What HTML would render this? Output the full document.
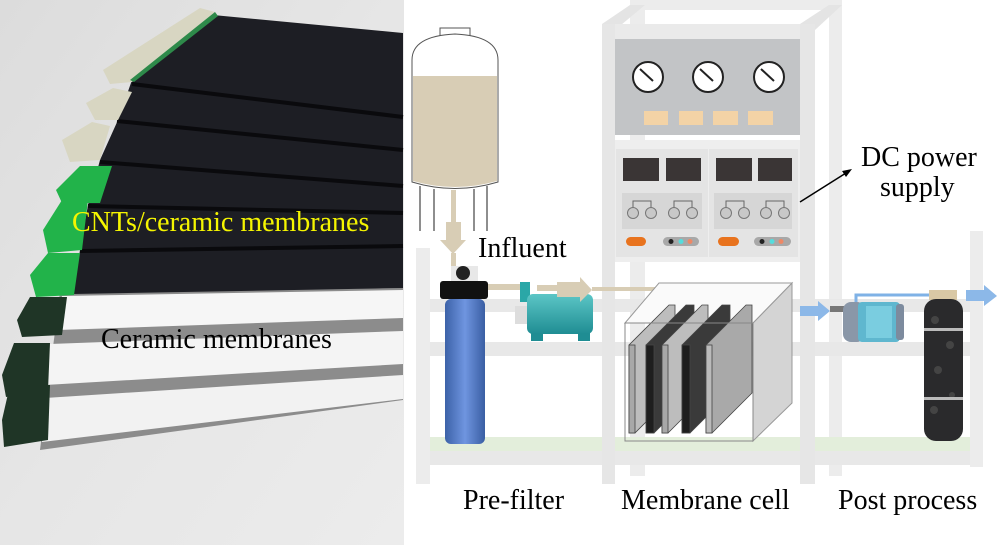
<!DOCTYPE html>
<html><head><meta charset="utf-8"><style>
html,body{margin:0;padding:0;background:#fff;}
svg{display:block;}
text{font-family:"Liberation Serif",serif;}
</style></head><body>
<svg width="1000" height="545" viewBox="0 0 1000 545" xmlns="http://www.w3.org/2000/svg">
<defs>
<linearGradient id="bg" x1="0" y1="0" x2="1" y2="1"><stop offset="0" stop-color="#dcdcdc"/><stop offset="0.5" stop-color="#e6e6e6"/><stop offset="1" stop-color="#ececec"/></linearGradient>
<linearGradient id="blue" x1="0" x2="1"><stop offset="0" stop-color="#3c62a8"/><stop offset="0.5" stop-color="#6f95e0"/><stop offset="1" stop-color="#3a5ea3"/></linearGradient>
<linearGradient id="teal" x1="0" y1="0" x2="0" y2="1"><stop offset="0" stop-color="#5cc6c6"/><stop offset="1" stop-color="#1f8d93"/></linearGradient>
</defs>
<!-- LEFT PHOTO -->
<rect x="0" y="0" width="404" height="545" fill="url(#bg)"/>
<!-- white plates -->
<polygon points="60,292 403,288 403,400 40,450" fill="#8c8c8c"/>
<polygon points="62,296 403,290 403,318 58,330" fill="#f6f6f6"/>
<polygon points="50,344 403,331 403,364 45,385" fill="#f4f4f4"/>
<polygon points="45,398 403,375 403,399 42,442" fill="#f2f2f2"/>
<!-- dark plates -->
<polygon points="213,15 403,33 403,288 73,294 80,250 88,205 100,160 118,120 132,80" fill="#1d1e24"/>
<g stroke="#0a0a0d" stroke-width="4" fill="none">
<line x1="132" y1="84" x2="403" y2="117"/>
<line x1="117" y1="121" x2="403" y2="150"/>
<line x1="100" y1="162" x2="403" y2="186"/>
<line x1="88" y1="206" x2="403" y2="213"/>
<line x1="80" y1="251" x2="403" y2="246"/>
</g>
<!-- tabs -->
<polygon points="103,70 200,8 215,12 132,82 110,84" fill="#d8d6c2"/>
<polygon points="130,80 215,12 218,16 134,82" fill="#2e8a4a"/>
<polygon points="86,103 113,88 132,92 118,120 95,120" fill="#d8d6c2"/>
<polygon points="62,140 92,122 110,126 100,160 70,162" fill="#d8d6c2"/>
<polygon points="56,190 80,166 112,166 100,203 62,203" fill="#22b34a"/>
<polygon points="43,230 62,200 88,200 82,250 48,253" fill="#22b34a"/>
<polygon points="30,275 48,253 80,253 74,295 36,297" fill="#22b34a"/>
<polygon points="17,320 30,297 67,297 62,335 22,337" fill="#1f3526"/>
<polygon points="2,375 14,343 50,343 48,390 6,397" fill="#1f3526"/>
<polygon points="2,420 10,385 50,385 48,440 4,447" fill="#1f3526"/>
<text x="72" y="231" font-size="28" fill="#f5f500">CNTs/ceramic membranes</text>
<text x="101" y="348" font-size="28" fill="#000">Ceramic membranes</text>

<!-- RIGHT DIAGRAM -->
<!-- back posts -->
<rect x="630" y="0" width="15" height="476" fill="#ececec"/>
<rect x="829" y="0" width="13" height="476" fill="#ececec"/>
<rect x="630" y="0" width="212" height="10" fill="#ececec"/>
<polygon points="602,24 630,5 645,5 615,30" fill="#e4e4e4"/>
<polygon points="800,24 829,5 842,5 815,30" fill="#e4e4e4"/>
<!-- rails -->
<rect x="416" y="299" width="554" height="13" fill="#e8e8e8"/>
<rect x="416" y="342" width="554" height="14" fill="#e8e8e8"/>
<rect x="416" y="437" width="554" height="14" fill="#e3eedb"/>
<rect x="416" y="451" width="554" height="14" fill="#e8e8e8"/>
<rect x="416" y="248" width="14" height="236" fill="#ececec"/>
<rect x="970" y="231" width="13" height="236" fill="#ececec"/>
<!-- front frame -->
<rect x="602" y="24" width="213" height="15" fill="#eaeaea"/>
<rect x="602" y="24" width="13" height="460" fill="#e6e6e6"/>
<rect x="800" y="24" width="15" height="460" fill="#e6e6e6"/>
<!-- gauge panel -->
<rect x="615" y="39" width="185" height="96" fill="#c2c4c6"/>
<g fill="#fff" stroke="#222" stroke-width="2">
<circle cx="648" cy="77" r="15"/><circle cx="708" cy="77" r="15"/><circle cx="769" cy="77" r="15"/>
</g>
<g stroke="#222" stroke-width="2">
<line x1="640" y1="69" x2="653" y2="81"/><line x1="700" y1="69" x2="713" y2="81"/><line x1="761" y1="69" x2="774" y2="81"/>
</g>
<g fill="#f3d3a6">
<rect x="644" y="111" width="24" height="14"/><rect x="679" y="111" width="24" height="14"/><rect x="713" y="111" width="25" height="14"/><rect x="748" y="111" width="25" height="14"/>
</g>
<!-- power supplies -->
<rect x="615" y="140" width="185" height="122" fill="#eeeeee"/>
<rect x="616" y="149" width="92" height="108" fill="#e4e4e4"/>
<rect x="709" y="149" width="89" height="108" fill="#e4e4e4"/>
<g fill="#3a3535">
<rect x="623" y="158" width="36" height="23"/><rect x="666" y="158" width="35" height="23"/><rect x="716" y="158" width="36" height="23"/><rect x="758" y="158" width="34" height="23"/>
</g>
<rect x="622" y="193" width="80" height="36" fill="#d6d6d6"/>
<rect x="714" y="193" width="78" height="36" fill="#d6d6d6"/>
<g fill="none" stroke="#666" stroke-width="1">
<polyline points="633,212 633,201 651,201 651,212"/><polyline points="674,212 674,201 692,201 692,212"/>
<polyline points="726,212 726,201 744,201 744,212"/><polyline points="766,212 766,201 784,201 784,212"/>
</g>
<g fill="#c8c8c8" stroke="#777" stroke-width="1">
<circle cx="633" cy="213" r="5.5"/><circle cx="651" cy="213" r="5.5"/><circle cx="674" cy="213" r="5.5"/><circle cx="692" cy="213" r="5.5"/>
<circle cx="726" cy="213" r="5.5"/><circle cx="744" cy="213" r="5.5"/><circle cx="766" cy="213" r="5.5"/><circle cx="784" cy="213" r="5.5"/>
</g>
<rect x="626" y="237" width="20" height="9" rx="4.5" fill="#e8731e"/>
<rect x="718" y="237" width="21" height="9" rx="4.5" fill="#e8731e"/>
<rect x="663" y="237" width="36" height="9" rx="4.5" fill="#a8a8a8"/>
<rect x="754" y="237" width="37" height="9" rx="4.5" fill="#a8a8a8"/>
<g><circle cx="671" cy="241.5" r="2.5" fill="#222"/><circle cx="681" cy="241.5" r="2.5" fill="#5dd"/><circle cx="690" cy="241.5" r="2.5" fill="#e86"/>
<circle cx="762" cy="241.5" r="2.5" fill="#222"/><circle cx="772" cy="241.5" r="2.5" fill="#5dd"/><circle cx="781" cy="241.5" r="2.5" fill="#e86"/></g>
<line x1="800" y1="202" x2="846" y2="173" stroke="#000" stroke-width="1.5"/>
<polygon points="852,169 842,171 846,177" fill="#000"/>
<text x="861" y="166" font-size="28">DC power</text>
<text x="880" y="196" font-size="28">supply</text>
<!-- tank -->
<rect x="440" y="28" width="30" height="8" fill="#fff" stroke="#555" stroke-width="1"/>
<path d="M412,60 Q412,36 455,34 Q498,36 498,60 L498,182 Q455,195 412,182 Z" fill="#fff" stroke="#555" stroke-width="1"/>
<path d="M413,76 L497,76 L497,181 Q455,193 413,181 Z" fill="#d8cdb5"/>
<g stroke="#444" stroke-width="1.2"><line x1="420" y1="186" x2="420" y2="231"/><line x1="434" y1="189" x2="434" y2="231"/><line x1="474" y1="189" x2="474" y2="231"/><line x1="487" y1="186" x2="487" y2="231"/></g>
<rect x="451" y="190" width="5" height="35" fill="#d8cdb5"/>
<polygon points="446,222 461,222 461,240 466,240 453,254 440,240 446,240" fill="#d8cdb5"/>
<rect x="451" y="253" width="5" height="14" fill="#d8cdb5"/>
<text x="478" y="257" font-size="28">Influent</text>
<!-- prefilter -->
<rect x="451" y="266" width="27" height="16" fill="#e8e8e8"/>
<circle cx="463" cy="273" r="7" fill="#222"/>
<rect x="440" y="281" width="48" height="18" rx="3" fill="#111"/>
<rect x="445" y="299" width="40" height="145" rx="6" fill="url(#blue)"/>
<rect x="488" y="284" width="40" height="6" fill="#d8cdb5"/>
<!-- pump 1 -->
<rect x="520" y="282" width="10" height="20" fill="#2aa7a7"/>
<rect x="515" y="306" width="12" height="18" fill="#ddd"/>
<rect x="527" y="294" width="66" height="40" rx="6" fill="url(#teal)"/>
<rect x="531" y="333" width="12" height="8" fill="#1f8d93"/><rect x="578" y="333" width="12" height="8" fill="#1f8d93"/>
<rect x="537" y="285" width="20" height="6" fill="#d8cdb5"/>
<polygon points="557,282 580,282 580,277 592,290 580,302 580,297 557,297" fill="#d8cdb5"/>
<rect x="592" y="287" width="66" height="4" fill="#d8cdb5"/>
<!-- membrane cell -->
<polygon points="753,323 792,283 792,403 753,441" fill="#d4d4d4" stroke="#999" stroke-width="1"/>
<polygon points="625,323 659,283 792,283 753,323" fill="#fafafa" stroke="#999" stroke-width="1"/>
<g stroke="#444" stroke-width="0.8">
<polygon points="629,345 669,305 675,305 675,393 635,433 629,433" fill="#bdbdbd"/>
<rect x="629" y="345" width="6" height="88" fill="#a8a8a8"/>
<polygon points="646,345 686,305 694,305 694,393 654,433 646,433" fill="#3a3a3a"/>
<rect x="646" y="345" width="8" height="88" fill="#1e1e1e"/>
<polygon points="662,345 702,305 708,305 708,393 668,433 662,433" fill="#bdbdbd"/>
<rect x="662" y="345" width="6" height="88" fill="#a8a8a8"/>
<polygon points="682,345 722,305 730,305 730,393 690,433 682,433" fill="#3a3a3a"/>
<rect x="682" y="345" width="8" height="88" fill="#1e1e1e"/>
<polygon points="706,345 746,305 752,305 752,393 712,433 706,433" fill="#a9a9a9"/>
<rect x="706" y="345" width="6" height="88" fill="#bbb"/>
</g>
<rect x="625" y="323" width="128" height="118" fill="none" stroke="#888" stroke-width="1"/>
<!-- blue arrow to pump2 -->
<polygon points="800,306 818,306 818,301 830,311 818,321 818,316 800,316" fill="#8cb8e8"/>
<!-- pump 2 -->
<rect x="830" y="306" width="14" height="6" fill="#777"/>
<rect x="843" y="302" width="22" height="40" rx="8" fill="#8a97a8"/>
<rect x="858" y="302" width="42" height="40" rx="4" fill="#5fb7cf"/>
<rect x="866" y="306" width="26" height="32" fill="#7acde0"/>
<rect x="896" y="304" width="8" height="36" rx="3" fill="#7d8b9e"/>
<polyline points="856,302 856,295 938,295 938,292" fill="none" stroke="#7fb2e6" stroke-width="3"/>
<!-- post column -->
<rect x="929" y="290" width="28" height="10" fill="#d9c8a5"/>
<rect x="924" y="299" width="39" height="142" rx="12" fill="#2a2a2c"/>
<g fill="#444"><circle cx="935" cy="320" r="4"/><circle cx="950" cy="345" r="4"/><circle cx="938" cy="370" r="4"/><circle cx="952" cy="395" r="3"/><circle cx="934" cy="410" r="4"/></g>
<rect x="924" y="328" width="39" height="3" fill="#bbb"/>
<rect x="924" y="397" width="39" height="3" fill="#bbb"/>
<polygon points="966,290 984,290 984,285 997,296 984,306 984,301 966,301" fill="#8cb8e8"/>
<!-- labels -->
<text x="463" y="509" font-size="28">Pre-filter</text>
<text x="621" y="509" font-size="28">Membrane cell</text>
<text x="838" y="509" font-size="28">Post process</text>
</svg>
</body></html>
